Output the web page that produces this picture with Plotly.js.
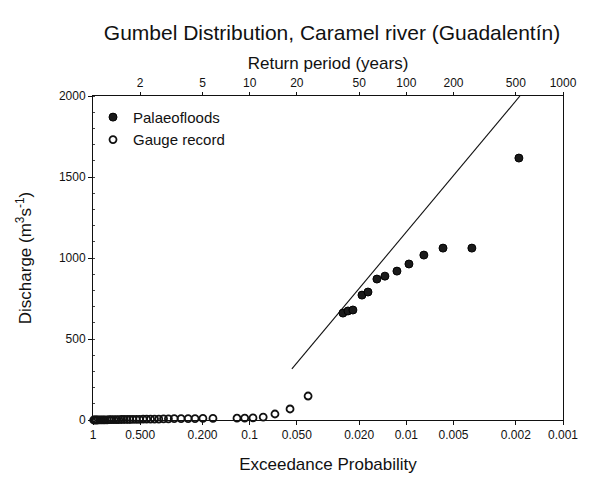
<!DOCTYPE html>
<html>
<head>
<meta charset="utf-8">
<script src="https://cdn.plot.ly/plotly-3.0.1.min.js"></script>
<style>html,body{margin:0;padding:0;background:#fff;}</style>
</head>
<body>
<div id="chart" style="width:589px;height:484px;"></div>
<script>
// Return periods (years) and discharges (m3/s)
const palaeoT = [39.4, 42.4, 45.6, 52.1, 56.9, 64.9, 73.0, 87.1, 103.9, 129.4, 171.4, 262, 523];
const palaeoQ = [660, 673, 679, 771, 790, 870, 888, 919, 963, 1018, 1061, 1061, 1617];

const gaugeT = [1.01, 1.03, 1.05, 1.07, 1.10, 1.13, 1.16, 1.19, 1.23, 1.27, 1.31, 1.36, 1.41, 1.46,
                1.52, 1.58, 1.65, 1.72, 1.80, 1.89, 1.98, 2.09, 2.20, 2.33, 2.47, 2.63, 2.82, 3.03,
                3.30, 3.65, 4.05, 4.48, 5.03, 5.83, 8.3, 9.3, 10.5, 12.2, 14.5, 18.1, 23.6];
const gaugeQ = [0, 0, 0, 0, 1, 1, 1, 1, 1, 2, 2, 2, 2, 2,
                3, 3, 3, 3, 4, 4, 4, 5, 5, 5, 6, 6, 7, 7,
                8, 8, 9, 9, 10, 10, 11, 12, 13, 18, 37, 68, 148];

// Fitted Gumbel line (end points)
const fitT = [18.6, 531];
const fitQ = [315, 2000];

// Axis ticks
const bottomTickT = [1, 2, 5, 10, 20, 50, 100, 200, 500, 1000];
const bottomTickText = ['1', '0.500', '0.200', '0.1', '0.050', '0.020', '0.01', '0.005', '0.002', '0.001'];
const topTickT = [2, 5, 10, 20, 50, 100, 200, 500, 1000];
const topTickText = ['2', '5', '10', '20', '50', '100', '200', '500', '1000'];
const yTicks = [0, 500, 1000, 1500, 2000];

const FONT = '"Liberation Sans", Arial, sans-serif';

const traces = [
  {
    x: fitT, y: fitQ, mode: 'lines', type: 'scatter',
    line: {color: '#111', width: 1.1}, showlegend: false, hoverinfo: 'skip'
  },
  {
    x: palaeoT, y: palaeoQ, mode: 'markers', type: 'scatter', name: 'Palaeofloods',
    legendrank: 1, cliponaxis: false,
    marker: {symbol: 'circle', size: 8, color: '#1a1a1a', line: {width: 1, color: '#000'}}
  },
  {
    x: gaugeT, y: gaugeQ, mode: 'markers', type: 'scatter', name: 'Gauge record',
    legendrank: 2, cliponaxis: false,
    marker: {symbol: 'circle-open', size: 7, color: '#111', line: {width: 1.8, color: '#111'}}
  },
  {
    x: [null], y: [null], xaxis: 'x2', type: 'scatter', mode: 'markers',
    showlegend: false, hoverinfo: 'skip'
  }
];

const layout = {
  width: 589, height: 484,
  margin: {l: 93, r: 26, t: 96, b: 64},
  paper_bgcolor: '#fff', plot_bgcolor: '#fff',
  font: {family: FONT, color: '#111', size: 12},
  showlegend: true,
  title: {
    text: 'Gumbel Distribution, Caramel river (Guadalentín)',
    font: {family: FONT, size: 21, color: '#111'},
    xref: 'container', x: 332/589, xanchor: 'center',
    yref: 'container', y: 1 - 33/484, yanchor: 'middle'
  },
  legend: {
    x: 0.0, y: 0.985, xanchor: 'left', yanchor: 'top',
    bgcolor: 'rgba(0,0,0,0)', borderwidth: 0,
    font: {family: FONT, size: 15, color: '#111'},
    traceorder: 'normal'
  },
  xaxis: {
    type: 'log', range: [0, 3], autorange: false,
    tickvals: bottomTickT, ticktext: bottomTickText,
    ticks: 'outside', ticklen: 4, tickcolor: '#111', tickwidth: 1,
    showline: true, linecolor: '#111', linewidth: 1, mirror: false,
    showgrid: false, zeroline: false,
    tickfont: {family: FONT, size: 12, color: '#111'},
    title: {text: 'Exceedance Probability', font: {family: FONT, size: 17, color: '#111'}, standoff: 16}
  },
  xaxis2: {
    type: 'log', range: [0, 3], autorange: false,
    overlaying: 'x', side: 'top', anchor: 'y',
    tickvals: topTickT, ticktext: topTickText,
    ticks: 'outside', ticklen: 3, tickcolor: '#111',
    showline: true, linecolor: '#111', linewidth: 1,
    showgrid: false, zeroline: false,
    tickfont: {family: FONT, size: 12, color: '#111'},
    title: {text: 'Return period (years)', font: {family: FONT, size: 17, color: '#111'}, standoff: 2}
  },
  yaxis: {
    range: [0, 2000], autorange: false,
    tickvals: yTicks,
    ticks: 'outside', ticklen: 4, tickcolor: '#111',
    minor: {dtick: 100, ticks: 'inside', ticklen: 2, tickcolor: '#444'},
    showline: true, linecolor: '#111', linewidth: 1, mirror: true,
    showgrid: false, zeroline: false,
    tickfont: {family: FONT, size: 12, color: '#111'},
    title: {text: 'Discharge (m<sup>3</sup>s<sup>-1</sup>)', font: {family: FONT, size: 17, color: '#111'}, standoff: 22}
  }
};

Plotly.newPlot('chart', traces, layout, {staticPlot: true, displayModeBar: false});
</script>
</body>
</html>
